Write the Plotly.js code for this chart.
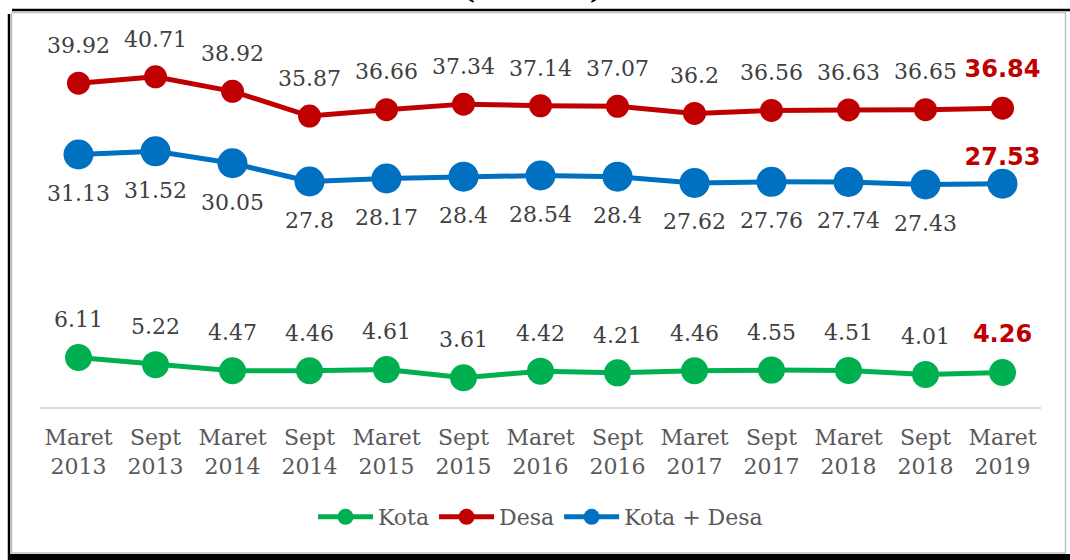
<!DOCTYPE html>
<html><head><meta charset="utf-8">
<script src="https://cdn.plot.ly/plotly-3.0.1.min.js"></script>
<style>html,body{margin:0;padding:0;background:#fff;} #chart{width:1070px;height:560px;}</style>
</head><body><div id="chart"></div>
<script>
const categories = ["Maret<br>2013","Sept<br>2013","Maret<br>2014","Sept<br>2014","Maret<br>2015","Sept<br>2015","Maret<br>2016","Sept<br>2016","Maret<br>2017","Sept<br>2017","Maret<br>2018","Sept<br>2018","Maret<br>2019"];
const kota = [6.11,5.22,4.47,4.46,4.61,3.61,4.42,4.21,4.46,4.55,4.51,4.01,4.26];
const desa = [39.92,40.71,38.92,35.87,36.66,37.34,37.14,37.07,36.2,36.56,36.63,36.65,36.84];
const kotaDesa = [31.13,31.52,30.05,27.8,28.17,28.4,28.54,28.4,27.62,27.76,27.74,27.43,27.53];
const seriesNames = ["Kota","Desa","Kota + Desa"];
const seriesColors = ["#00B050","#C00000","#0070C0"];

const W=1070,H=560,L=40,R=29,T=42,B=153;
const pw=W-L-R, ph=H-T-B;
const X=px=>(px-L)/pw, Y=py=>(H-B-py)/ph;

function labels(vals){return vals.map((v,i)=> i===vals.length-1 ? '<b>'+v.toFixed(2)+'</b>' : String(v));}
function tfont(vals){
  const last=i=>i===vals.length-1;
  return {
    family: vals.map((v,i)=>last(i)?'DejaVu Sans':'DejaVu Serif'),
    size: vals.map((v,i)=>last(i)?24:22),
    color: vals.map((v,i)=>last(i)?'#C00000':'#404040')
  };
}
function lineTrace(vals,idx,msize){
  return {x:categories,y:vals,type:'scatter',mode:'lines+markers',name:seriesNames[idx],
    line:{color:seriesColors[idx],width:5},marker:{color:seriesColors[idx],size:msize},
    cliponaxis:false,hoverinfo:'skip'};
}
function textTrace(vals,pos,offsetSize){
  return {x:categories,y:vals,type:'scatter',mode:'markers+text',showlegend:false,
    marker:{color:'rgba(0,0,0,0)',opacity:0,size:offsetSize,line:{width:0,color:'rgba(0,0,0,0)'}},
    text:labels(vals),textposition:pos,textfont:tfont(vals),cliponaxis:false,hoverinfo:'skip'};
}
const lastIdx = kotaDesa.length-1;
const blueStyle = kotaDesa.map((v,i)=> i===lastIdx ? 'top center' : 'bottom center');
const blueOffset = kotaDesa.map((v,i)=> i===lastIdx ? 18 : 46);
const data=[
  lineTrace(kota,0,27),lineTrace(desa,1,23),lineTrace(kotaDesa,2,30),
  textTrace(kota,'top center',38),textTrace(desa,'top center',38),textTrace(kotaDesa,blueStyle,blueOffset)
];

const shapes=[
  {type:'line',xref:'paper',yref:'paper',x0:X(12),x1:X(1070),y0:Y(10),y1:Y(10),line:{color:'#000',width:2.5}},
  {type:'line',xref:'paper',yref:'paper',x0:X(12),x1:X(1066),y0:Y(12.5),y1:Y(12.5),line:{color:'#c0c0c0',width:1.5}},
  {type:'line',xref:'paper',yref:'paper',x0:X(9),x1:X(9),y0:Y(14),y1:Y(560),line:{color:'#000',width:2.5}},
  {type:'line',xref:'paper',yref:'paper',x0:X(11.5),x1:X(11.5),y0:Y(13),y1:Y(553),line:{color:'#c0c0c0',width:1.5}},
  {type:'line',xref:'paper',yref:'paper',x0:X(1065.5),x1:X(1065.5),y0:Y(12),y1:Y(553),line:{color:'#c0c0c0',width:1.5}},
  {type:'line',xref:'paper',yref:'paper',x0:X(11),x1:X(1066),y0:Y(553),y1:Y(553),line:{color:'#c0c0c0',width:1.5}},
  {type:'rect',xref:'paper',yref:'paper',x0:X(8),x1:X(1070),y0:Y(554),y1:Y(560),fillcolor:'#000',line:{width:0}}
];

const layout={
  width:W,height:H,margin:{l:L,r:R,t:T,b:B,pad:0},
  paper_bgcolor:'#fff',plot_bgcolor:'#fff',showlegend:true,
  font:{family:'DejaVu Serif',color:'#595959'},
  xaxis:{type:'category',range:[-0.5,12.5],autorange:false,showline:true,linecolor:'#d9d9d9',linewidth:2,showgrid:false,zeroline:false,
    ticks:'outside',ticklen:10,tickcolor:'rgba(0,0,0,0)',tickfont:{family:'DejaVu Serif',size:22,color:'#595959'},fixedrange:true},
  yaxis:{range:[0,45],autorange:false,showgrid:false,zeroline:false,showticklabels:false,showline:false,fixedrange:true},
  legend:{orientation:'h',x:0.5,xanchor:'center',y:Y(517),yanchor:'middle',itemwidth:55,
    font:{family:'DejaVu Serif',size:22,color:'#595959'}},
  shapes:shapes,
  annotations:[{xref:'paper',yref:'paper',x:X(532),y:Y(-13),xanchor:'center',yanchor:'middle',showarrow:false,
    text:'<b>(Persen)</b>',font:{family:'DejaVu Serif',size:30,color:'#000'}}]
};
Plotly.newPlot('chart',data,layout,{displayModeBar:false,staticPlot:true});
</script></body></html>
